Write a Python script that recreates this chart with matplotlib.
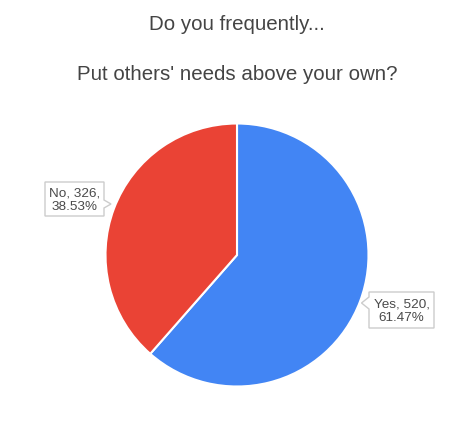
import matplotlib
matplotlib.use("Agg")
import matplotlib.pyplot as plt
from matplotlib.patches import Polygon

categories = ["Yes", "No"]
counts = [520, 326]
colors = ["#4285F4", "#EA4335"]
title_lines = ["Do you frequently...", "Put others' needs above your own?"]

W, H = 474, 427
fig = plt.figure(figsize=(W / 100, H / 100), dpi=100)
plt.rcParams['font.family'] = ['Liberation Sans', 'DejaVu Sans']

cx, cy, r = 237, 256, 131.5
ax = fig.add_axes([(cx - r) / W, (H - cy - r) / H, 2 * r / W, 2 * r / H])
ax.pie(counts, colors=colors, startangle=90, counterclock=False,
       radius=1, wedgeprops=dict(edgecolor="white", linewidth=1.5))
ax.set_xlim(-1, 1)
ax.set_ylim(-1, 1)
ax.set_aspect("auto")
ax.axis("off")

def fx(x):
    return x / W

def fy(y):
    return (H - y) / H

fig.text(0.5, fy(25), title_lines[0], ha="center", va="center", fontsize=14.8, color="#444444")
fig.text(0.5, fy(75), title_lines[1], ha="center", va="center", fontsize=14.8, color="#444444")

total = sum(counts)
labels = [f"{c}, {v},\n{v / total * 100:.2f}%" for c, v in zip(categories, counts)]

# callout boxes: (left, top, right, bottom, notch side, notch y0, notch y1, tip x, tip y)
boxes = [
    (369, 293, 434, 329, "left", 298, 310, 361.5, 304),
    (45, 183, 104, 217, "right", 201, 209, 111, 205),
]
for lab, (l, t, rr, b, side, n0, n1, tx, ty) in zip(labels, boxes):
    if side == "left":
        pts = [(l, t), (rr, t), (rr, b), (l, b), (l, n1), (tx, ty), (l, n0)]
    else:
        pts = [(l, t), (rr, t), (rr, n0), (tx, ty), (rr, n1), (rr, b), (l, b)]
    poly = Polygon([(fx(x), fy(y)) for x, y in pts], closed=True,
                   transform=fig.transFigure, facecolor="white",
                   edgecolor="#cccccc", linewidth=1.0)
    fig.patches.append(poly)
    fig.text(fx((l + rr) / 2), fy((t + b) / 2 + 0.5), lab, ha="center", va="center",
             fontsize=9.7, color="#4a4a4a", linespacing=1.12)

fig.savefig("out.png", dpi=100)
